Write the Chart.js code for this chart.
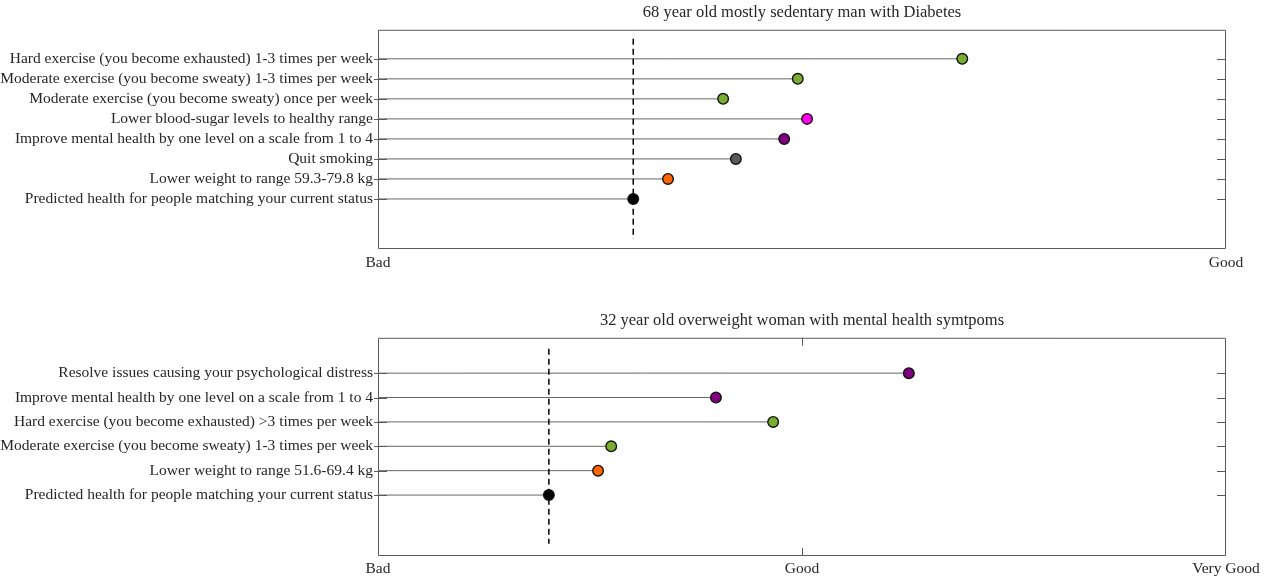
<!DOCTYPE html>
<html>
<head>
<meta charset="utf-8">
<script src="https://cdn.jsdelivr.net/npm/chart.js@4.4.1/dist/chart.umd.min.js"></script>
<style>
  body { margin: 0; background: #fff; }
  canvas { display: block; }
</style>
</head>
<body>
<canvas id="topChart" width="1265" height="288"></canvas>
<canvas id="bottomChart" width="1265" height="288"></canvas>
<script>
// top panel
const topTitle = '68 year old mostly sedentary man with Diabetes';
const topLabels = [
    'Hard exercise (you become exhausted) 1-3 times per week',
    'Moderate exercise (you become sweaty) 1-3 times per week',
    'Moderate exercise (you become sweaty) once per week',
    'Lower blood-sugar levels to healthy range',
    'Improve mental health by one level on a scale from 1 to 4',
    'Quit smoking',
    'Lower weight to range 59.3-79.8 kg',
    'Predicted health for people matching your current status'
];
const topValues = [0.689, 0.495, 0.407, 0.506, 0.479, 0.422, 0.342, 0.301];
const topColors = ['#78ad2f', '#78ad2f', '#78ad2f', '#ff00ee', '#800080', '#5a5a5a', '#ff6600', '#000000'];
const topTicks = ['Bad', 'Good'];

// bottom panel
const bottomTitle = '32 year old overweight woman with mental health symtpoms';
const bottomLabels = [
    'Resolve issues causing your psychological distress',
    'Improve mental health by one level on a scale from 1 to 4',
    'Hard exercise (you become exhausted) >3 times per week',
    'Moderate exercise (you become sweaty) 1-3 times per week',
    'Lower weight to range 51.6-69.4 kg',
    'Predicted health for people matching your current status'
];
const bottomValues = [1.252, 0.797, 0.932, 0.550, 0.519, 0.403];
const bottomColors = ['#800080', '#800080', '#78ad2f', '#78ad2f', '#ff6600', '#000000'];
const bottomTicks = ['Bad', 'Good', 'Very Good'];

Chart.defaults.font.family = "'Liberation Serif', serif";
Chart.defaults.font.size = 15.5;
Chart.defaults.color = '#262626';

const frameColor = '#5a5a5a';

const framePlugin = {
    id: 'frame',
    afterDraw(chart) {
        const { ctx, chartArea: a, scales } = chart;
        ctx.save();
        ctx.strokeStyle = frameColor;
        ctx.lineWidth = 1;
        ctx.beginPath();
        ctx.rect(a.left + 0.5, a.top + 0.5, a.right - a.left - 1, a.bottom - a.top - 1);
        ctx.stroke();
        ctx.beginPath();
        scales.y.ticks.forEach(t => {
            const y = Math.round(scales.y.getPixelForValue(t.value)) + 0.5;
            ctx.moveTo(a.left - 4, y);
            ctx.lineTo(a.left + 9, y);
            ctx.moveTo(a.right - 9, y);
            ctx.lineTo(a.right, y);
        });
        scales.x.ticks.forEach(t => {
            if (t.value === scales.x.min || t.value === scales.x.max) return;
            const x = Math.round(scales.x.getPixelForValue(t.value)) + 0.5;
            ctx.moveTo(x, a.top);
            ctx.lineTo(x, a.top + 8);
            ctx.moveTo(x, a.bottom);
            ctx.lineTo(x, a.bottom - 8);
        });
        ctx.stroke();
        ctx.restore();
    }
};

function makeChart(id, title, labels, values, colors, tickLabels, titleTop, axisHeight, tickPad) {
    const n = labels.length;
    const baseline = values[n - 1];
    const datasets = [];

    labels.forEach((l, i) => {
        datasets.push({
            type: 'line',
            data: [{ x: 0, y: i }, { x: values[i], y: i }],
            borderColor: '#666',
            borderWidth: 1,
            pointRadius: 0,
            order: 3
        });
    });

    datasets.push({
        type: 'line',
        data: [{ x: baseline, y: -1 }, { x: baseline, y: n + 1 }],
        borderColor: '#000',
        borderWidth: 1.5,
        borderDash: [6, 4],
        pointRadius: 0,
        order: 2
    });

    datasets.push({
        type: 'scatter',
        data: values.map((v, i) => ({ x: v, y: i })),
        pointBackgroundColor: colors,
        pointBorderColor: '#111',
        pointBorderWidth: 1.4,
        pointRadius: 5.3,
        order: 1
    });

    return new Chart(document.getElementById(id), {
        type: 'scatter',
        data: { datasets },
        options: {
            responsive: false,
            animation: false,
            layout: { padding: { top: 0, right: 39, bottom: 0, left: 0 } },
            plugins: {
                legend: { display: false },
                tooltip: { enabled: false },
                title: {
                    display: true,
                    fullSize: false,
                    text: title,
                    font: { size: 16.5, weight: 'normal' },
                    color: '#262626',
                    lineHeight: 1.1,
                    padding: { top: titleTop, bottom: 7 }
                }
            },
            scales: {
                x: {
                    type: 'linear',
                    min: 0,
                    max: tickLabels.length - 1,
                    afterBuildTicks: s => { s.ticks = tickLabels.map((t, i) => ({ value: i })); },
                    afterFit: s => { s.height = axisHeight; },
                    ticks: {
                        padding: tickPad,
                        maxRotation: 0,
                        callback: v => tickLabels[v]
                    },
                    grid: { display: false, drawTicks: false },
                    border: { display: false }
                },
                y: {
                    type: 'linear',
                    reverse: true,
                    min: -1.45,
                    max: n - 1 + 2.5,
                    afterBuildTicks: s => { s.ticks = labels.map((l, i) => ({ value: i })); },
                    afterFit: s => { s.width = 378; },
                    ticks: {
                        padding: 5,
                        callback: v => labels[v]
                    },
                    grid: { display: false, drawTicks: false },
                    border: { display: false }
                }
            }
        },
        plugins: [framePlugin]
    });
}

makeChart('topChart', topTitle, topLabels, topValues, topColors, topTicks, 3, 39, 5);
makeChart('bottomChart', bottomTitle, bottomLabels, bottomValues, bottomColors, bottomTicks, 23, 20, 4);
</script>
</body>
</html>
